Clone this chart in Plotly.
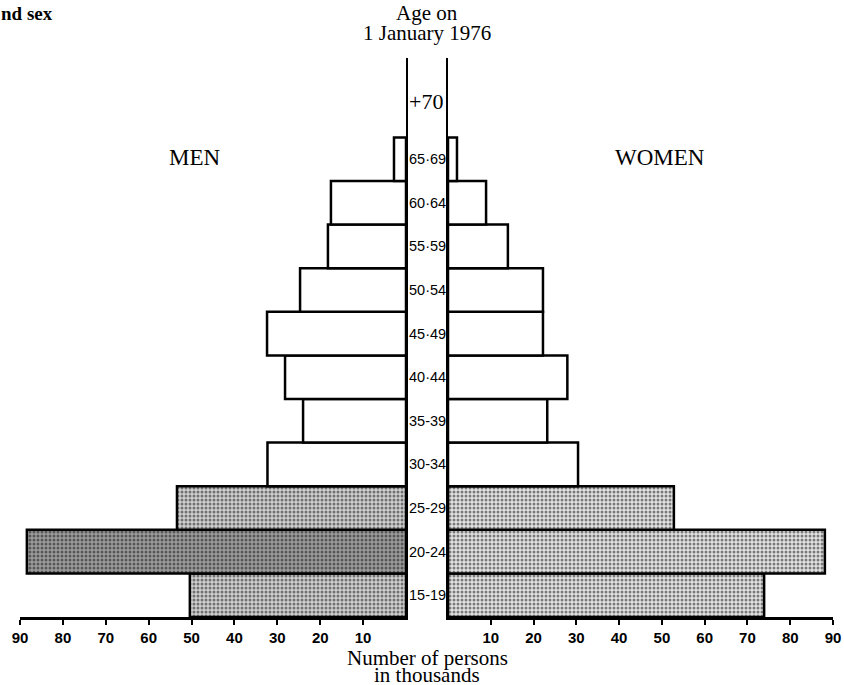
import plotly.graph_objects as go

age_groups = ["15-19", "20-24", "25-29", "30-34", "35-39", "40-44",
              "45-49", "50-54", "55-59", "60-64", "65-69", "+70"]
age_labels = ["15-19", "20-24", "25-29", "30-34", "35-39", "40·44",
              "45·49", "50·54", "55·59", "60·64", "65·69", "+70"]
men = [50.4, 88.4, 53.4, 32.3, 24.0, 28.2, 32.4, 24.7, 18.2, 17.5, 2.8, 0]
women = [73.9, 88.1, 52.8, 30.4, 23.2, 27.9, 22.2, 22.2, 14.0, 8.9, 2.1, 0]
stippled = [True, True, True] + [False] * 9
tick_vals = [10, 20, 30, 40, 50, 60, 70, 80, 90]

W, H = 844, 685
# plot area in window pixels
PX0, PX1, PY0, PY1 = 20, 833, 58, 617
L, R = PX0, W - PX1
T, B = PY0, H - PY1
pw, ph = PX1 - PX0, PY1 - PY0


def xp(x):
    return (x - PX0) / pw


def yp(y):
    return (PY1 - y) / ph


left_dom = [0, xp(406)]
right_dom = [xp(448), 1]

ypos = list(range(len(age_groups)))
bar_idx = [i for i in ypos if age_groups[i] != "+70"]

fig = go.Figure()


def pattern_for(side):
    shapes, fg, bg, sol = [], [], [], []
    for i in bar_idx:
        if stippled[i]:
            dark = (side == "men" and age_groups[i] == "20-24")
            shapes.append(".")
            fg.append("#111111")
            if side == "men":
                bg.append("#9c9c9c" if dark else "#cfcfcf")
            else:
                bg.append("#e2e2e2")
            sol.append(0.45)
        else:
            shapes.append("")
            fg.append("#111111")
            bg.append("white")
            sol.append(0.3)
    return dict(shape=shapes, fgcolor=fg, bgcolor=bg, solidity=sol, size=4, fillmode="overlay")


fig.add_trace(go.Bar(
    x=[men[i] for i in bar_idx], y=[ypos[i] for i in bar_idx], orientation="h",
    width=1, xaxis="x", yaxis="y",
    marker=dict(color="white", line=dict(color="black", width=2.5), pattern=pattern_for("men")),
    showlegend=False, hoverinfo="skip"))
fig.add_trace(go.Bar(
    x=[women[i] for i in bar_idx], y=[ypos[i] for i in bar_idx], orientation="h",
    width=1, xaxis="x2", yaxis="y2",
    marker=dict(color="white", line=dict(color="black", width=2.5), pattern=pattern_for("women")),
    showlegend=False, hoverinfo="skip"))

row_h = 43.6
yr = [-0.5, -0.5 + ph / row_h]
tickfont = dict(family="Liberation Sans, Arial, sans-serif", size=15, color="black", weight="bold")
xcommon = dict(tickvals=tick_vals, ticktext=[str(v) for v in tick_vals],
               showline=True, linecolor="black", linewidth=2.5, ticks="outside", ticklen=5,
               tickwidth=2, tickcolor="black", showgrid=False, zeroline=False, tickfont=tickfont,
               automargin=False, fixedrange=True, ticklabeloverflow="allow")
ycommon = dict(domain=[0, 1], range=yr, showline=True, linecolor="black", linewidth=2,
               showticklabels=False, ticks="", showgrid=False, zeroline=False,
               automargin=False, fixedrange=True)
fig.update_layout(
    width=W, height=H, margin=dict(l=L, r=R, t=T, b=B, autoexpand=False),
    plot_bgcolor="white", paper_bgcolor="white", bargap=0,
    xaxis=dict(domain=left_dom, range=[90, 0], anchor="y", **xcommon),
    yaxis=dict(side="right", anchor="x", **ycommon),
    xaxis2=dict(domain=right_dom, range=[0, 90], anchor="y2", **xcommon),
    yaxis2=dict(side="left", anchor="x2", **ycommon),
)

serif = "Liberation Serif, Times New Roman, serif"
sans = "Liberation Sans, Arial, sans-serif"
mid = xp((406 + 448) / 2)


def txt(x, y, text, size=22, family=serif, xanchor="center", bold=False):
    return dict(x=x, y=y, xref="paper", yref="paper", text=text, showarrow=False,
                xanchor=xanchor, yanchor="middle",
                font=dict(family=family, size=size, color="black",
                          weight="bold" if bold else "normal"))


ann = []
for i, g in enumerate(age_labels):
    if g == "+70":
        ann.append(txt(xp(407), yp(102), "+70", size=22, xanchor="left"))
    else:
        ycen = PY1 - (i + 0.5) * row_h
        ann.append(txt(xp(407), yp(ycen), g, size=14.5, family=sans, xanchor="left"))
ann += [
    txt(mid, yp(13), "Age on", size=21),
    txt(mid, yp(33), "1 January 1976", size=21),
    txt(xp(195), yp(157), "MEN", size=23),
    txt(xp(660), yp(157), "WOMEN", size=23),
    txt(mid, yp(658), "Number of persons", size=21),
    txt(mid, yp(675), "in thousands", size=21),
    txt(xp(-1), yp(14), "nd sex", size=19, xanchor="left", bold=True),
]
fig.update_layout(annotations=ann)
fig.write_html(
    "out.html",
    config={"displayModeBar": False, "staticPlot": True},
    post_script="document.body.style.margin='0';document.body.style.overflow='hidden';",
)
